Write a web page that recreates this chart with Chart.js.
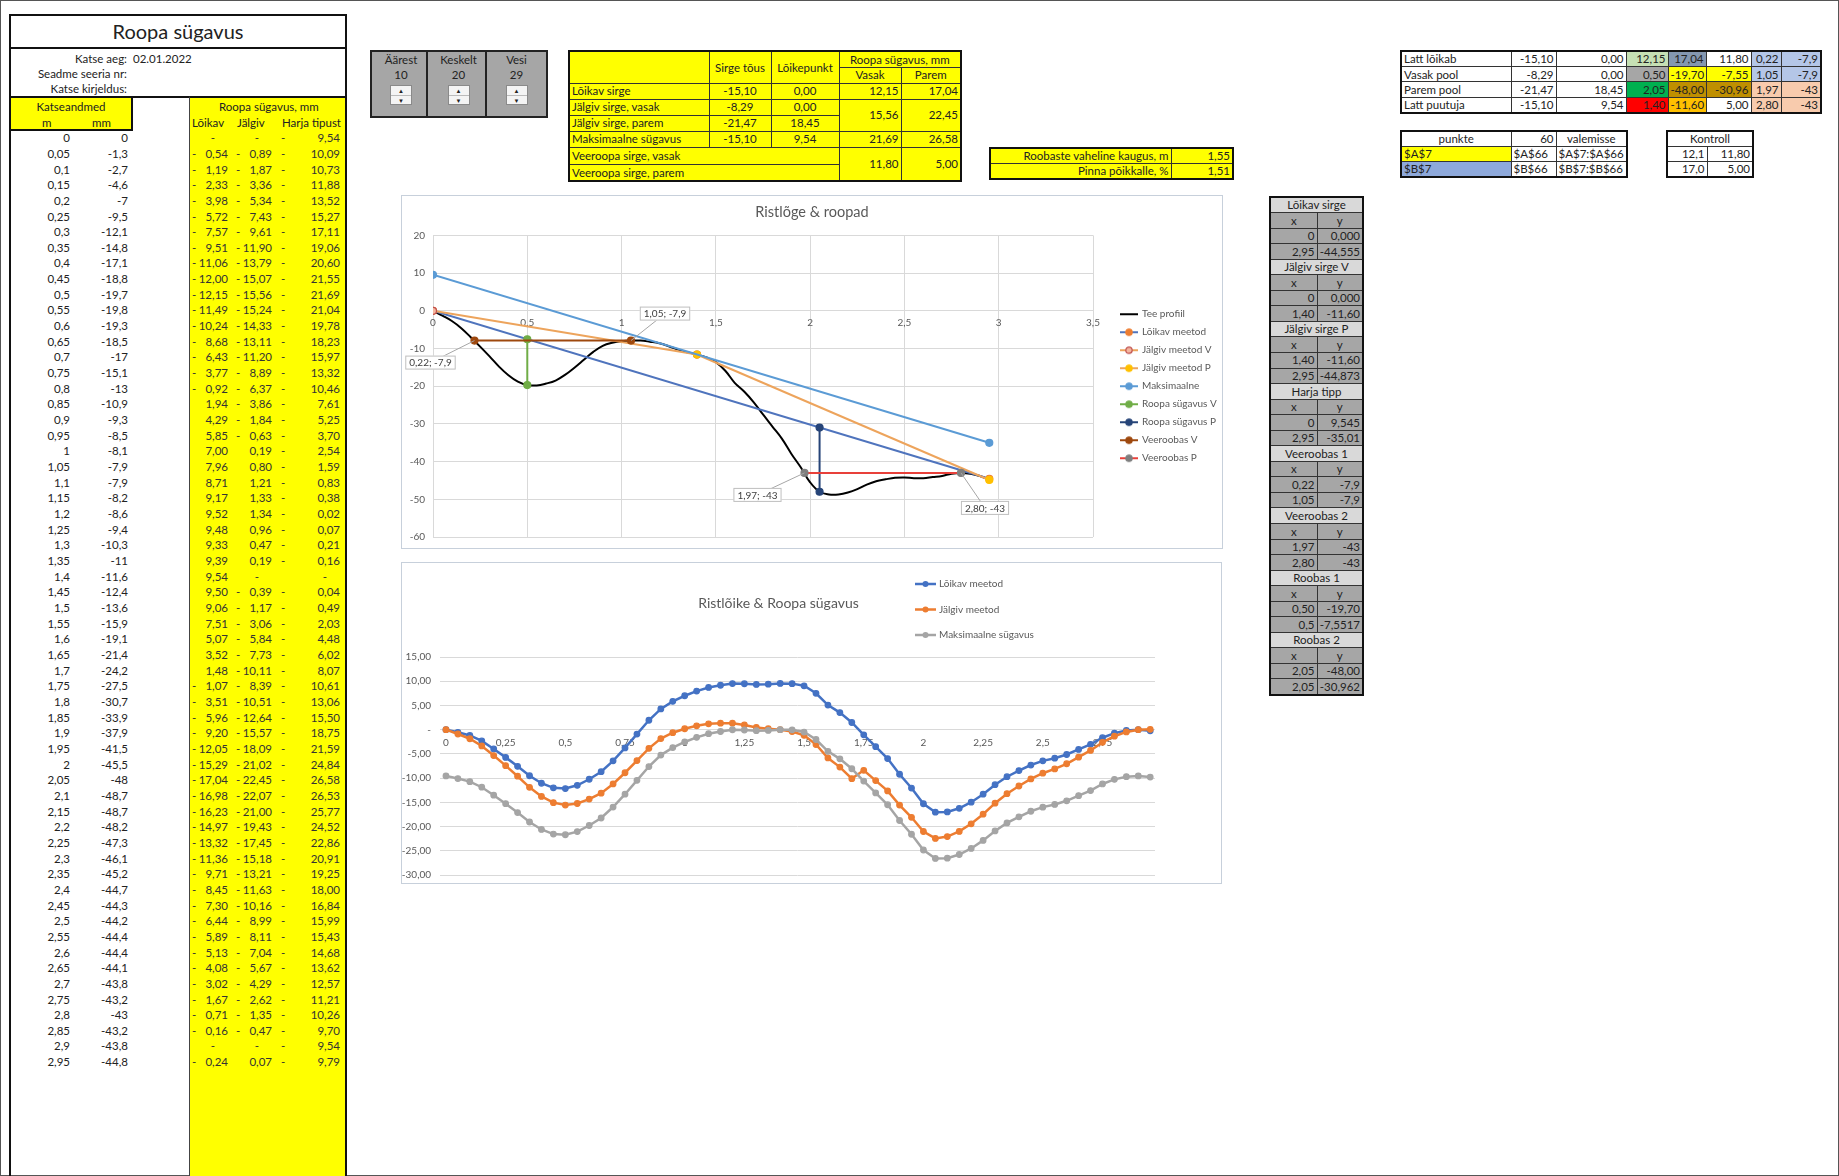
<!DOCTYPE html>
<html lang="et">
<head>
<meta charset="utf-8">
<title>Roopa sügavus</title>
<script src="https://cdn.jsdelivr.net/npm/chart.js@4.4.1/dist/chart.umd.min.js"></script>
<style>
  html, body { margin: 0; padding: 0; }
  body {
    width: 1839px; height: 1176px; position: relative; overflow: hidden; background: #fff;
    font-family: Lato, "Liberation Sans", sans-serif; font-size: 11.5px; color: #222;
  }
  .abs { position: absolute; box-sizing: border-box; }
  #pageframe { left: 0; top: 0; width: 1839px; height: 1176px; border: 1px solid #555; }

  /* left sheet block */
  #titlebox { left: 9px; top: 14px; width: 338px; height: 35px; border: 2px solid #111;
    font-size: 20px; text-align: center; line-height: 31px; }
  #infobox { left: 9px; top: 47px; width: 338px; height: 51px; border: 2px solid #111; }
  #infobox .lbl { position: absolute; left: 0; width: 116px; text-align: right; }
  #infobox .val { position: absolute; left: 122px; }
  #leftline { left: 9px; top: 96px; width: 2px; height: 1100px; background: #111; }
  #katse { left: 9px; top: 96px; width: 124px; height: 35px; background: #ffff00; border: 2px solid #111; }
  #katse span { position: absolute; }
  #ycol { left: 189px; top: 96px; width: 158px; height: 1100px; background: #ffff00;
    border-left: 1px solid #444; border-right: 2px solid #111; border-top: 2px solid #111; }
  .hd { position: absolute; white-space: nowrap; }
  .row { position: absolute; left: 0; width: 347px; height: 15.66px; line-height: 15.66px; }
  .row span { position: absolute; white-space: nowrap; }
  .cm { left: 20px; width: 50px; text-align: right; }
  .cmm { left: 78px; width: 50px; text-align: right; }
  .acc { height: 15.66px; color: #333; }
  .acc i { position: absolute; left: 1px; font-style: normal; }
  .acc b { position: absolute; right: 1px; font-weight: normal; }
  .acc b.z { right: 14px; }

  /* spinners */
  .spc { position: absolute; top: 0; height: 64px; background: #a6a6a6; border: 2px solid #222; text-align: center; }
  .spc .t { position: absolute; left: 0; right: 0; top: 1px; }
  .spc .v { position: absolute; left: 0; right: 0; top: 16px; }
  .spin { position: absolute; top: 33px; left: 50%; margin-left: -11px; width: 22px; height: 20px;
    background: #f4f4f4; border: 1px solid #8a8a8a; box-sizing: border-box; font-size: 6px; line-height: 9px; color: #222; }
  .spin div { height: 9px; }
  .spin div + div { border-top: 1px solid #bbb; }

  /* sheet tables */
  table.grid { position: absolute; border-collapse: collapse; table-layout: fixed; border: 2px solid #111; }
  table.grid td { border: 1px solid #333; padding: 0 2px; white-space: nowrap; overflow: hidden; line-height: 1; }
  table.yel td { background: #ffff00; }
  .r { text-align: right; }
  .c { text-align: center; }
  table.gray td { background: #a6a6a6; }
  table.gray td.gh { background: #d9d9d9; text-align: center; }
  table.gray td.xy { text-align: center; }

  .chartbox { position: absolute; border: 1px solid #c7d0db; background: #fff; }
  .chartbox canvas { display: block; }
</style>
</head>
<body>
<div id="pageframe" class="abs"></div>

<div id="titlebox" class="abs">Roopa sügavus</div>
<div id="infobox" class="abs">
  <span class="lbl" style="top:3px">Katse aeg:</span><span class="val" style="top:3px">02.01.2022</span>
  <span class="lbl" style="top:18px">Seadme seeria nr:</span>
  <span class="lbl" style="top:33px">Katse kirjeldus:</span>
</div>
<div id="leftline" class="abs"></div>
<div id="ycol" class="abs">
  <span class="hd" style="left:29px;top:2px">Roopa sügavus, mm</span>
  <span class="hd" style="left:2px;top:18px">Lõikav</span>
  <span class="hd" style="left:47px;top:18px">Jälgiv</span>
  <span class="hd" style="right:4px;top:18px">Harja tipust</span>
</div>
<div id="katse" class="abs">
  <span style="left:0;width:120px;text-align:center;top:2px">Katseandmed</span>
  <span style="left:31px;top:18px">m</span>
  <span style="left:81px;top:18px">mm</span>
</div>
<div id="rows"></div>

<div class="abs" style="left:370px;top:50px;width:174px;height:64px">
  <div class="spc" style="left:0;width:58px"><div class="t">Äärest</div><div class="v">10</div><div class="spin"><div>▲</div><div>▼</div></div></div>
  <div class="spc" style="left:56px;width:61px"><div class="t">Keskelt</div><div class="v">20</div><div class="spin"><div>▲</div><div>▼</div></div></div>
  <div class="spc" style="left:115px;width:59px"><div class="t">Vesi</div><div class="v">29</div><div class="spin"><div>▲</div><div>▼</div></div></div>
</div>

<table class="grid yel" style="left:568px;top:50px;width:392px;height:130px">
  <colgroup><col style="width:140px"><col style="width:62px"><col style="width:68px"><col style="width:62px"><col style="width:60px"></colgroup>
  <tr style="height:16px"><td rowspan="2"></td><td rowspan="2" class="c">Sirge tõus</td><td rowspan="2" class="c">Lõikepunkt</td><td colspan="2" class="c">Roopa sügavus, mm</td></tr>
  <tr style="height:16px"><td class="c">Vasak</td><td class="c">Parem</td></tr>
  <tr style="height:16px"><td>Lõikav sirge</td><td class="c">-15,10</td><td class="c">0,00</td><td class="r">12,15</td><td class="r">17,04</td></tr>
  <tr style="height:16px"><td>Jälgiv sirge, vasak</td><td class="c">-8,29</td><td class="c">0,00</td><td class="r" rowspan="2">15,56</td><td class="r" rowspan="2">22,45</td></tr>
  <tr style="height:16px"><td>Jälgiv sirge, parem</td><td class="c">-21,47</td><td class="c">18,45</td></tr>
  <tr style="height:16px"><td>Maksimaalne sügavus</td><td class="c">-15,10</td><td class="c">9,54</td><td class="r">21,69</td><td class="r">26,58</td></tr>
  <tr style="height:17px"><td colspan="3">Veeroopa sirge, vasak</td><td class="r" rowspan="2">11,80</td><td class="r" rowspan="2">5,00</td></tr>
  <tr style="height:17px"><td colspan="3">Veeroopa sirge, parem</td></tr>
</table>

<table class="grid yel" style="left:989px;top:147px;width:243px;height:33px">
  <colgroup><col style="width:181px"><col style="width:62px"></colgroup>
  <tr><td class="r">Roobaste vaheline kaugus, m</td><td class="r">1,55</td></tr>
  <tr><td class="r">Pinna põikkalle, %</td><td class="r">1,51</td></tr>
</table>

<table class="grid" style="left:1400px;top:50px;width:420px;height:64px">
  <colgroup><col style="width:110px"><col style="width:45px"><col style="width:70px"><col style="width:42px"><col style="width:38px"><col style="width:45px"><col style="width:30px"><col style="width:40px"></colgroup>
  <tr><td>Latt lõikab</td><td class="r">-15,10</td><td class="r">0,00</td><td class="r" style="background:#c6e0b4">12,15</td><td class="r" style="background:#8497b0">17,04</td><td class="r">11,80</td><td class="r" style="background:#b4c6e7">0,22</td><td class="r" style="background:#b4c6e7">-7,9</td></tr>
  <tr><td>Vasak pool</td><td class="r">-8,29</td><td class="r">0,00</td><td class="r" style="background:#a6a6a6">0,50</td><td class="r" style="background:#ffff00">-19,70</td><td class="r" style="background:#ffff00">-7,55</td><td class="r" style="background:#b4c6e7">1,05</td><td class="r" style="background:#b4c6e7">-7,9</td></tr>
  <tr><td>Parem pool</td><td class="r">-21,47</td><td class="r">18,45</td><td class="r" style="background:#00b050">2,05</td><td class="r" style="background:#bf8f00">-48,00</td><td class="r" style="background:#bf8f00">-30,96</td><td class="r" style="background:#f8cbad">1,97</td><td class="r" style="background:#f8cbad">-43</td></tr>
  <tr><td>Latt puutuja</td><td class="r">-15,10</td><td class="r">9,54</td><td class="r" style="background:#ff0000">1,40</td><td class="r" style="background:#ffc000">-11,60</td><td class="r">5,00</td><td class="r" style="background:#f8cbad">2,80</td><td class="r" style="background:#f8cbad">-43</td></tr>
</table>

<table class="grid" style="left:1400px;top:130px;width:226px;height:48px">
  <colgroup><col style="width:110px"><col style="width:45px"><col style="width:71px"></colgroup>
  <tr><td class="c">punkte</td><td class="r">60</td><td class="c">valemisse</td></tr>
  <tr><td style="background:#ffff00">$A$7</td><td>$A$66</td><td>$A$7:$A$66</td></tr>
  <tr><td style="background:#8ea9db">$B$7</td><td>$B$66</td><td>$B$7:$B$66</td></tr>
</table>

<table class="grid" style="left:1666px;top:130px;width:86px;height:48px">
  <colgroup><col style="width:40px"><col style="width:46px"></colgroup>
  <tr><td class="c" colspan="2">Kontroll</td></tr>
  <tr><td class="r">12,1</td><td class="r">11,80</td></tr>
  <tr><td class="r">17,0</td><td class="r">5,00</td></tr>
</table>

<table id="graytab" class="grid gray" style="left:1269px;top:196px;width:93px;height:498px">
  <colgroup><col style="width:47px"><col style="width:46px"></colgroup>
</table>

<div class="chartbox" style="left:401px;top:195px"><canvas id="c1" width="820" height="352"></canvas></div>
<div class="chartbox" style="left:401px;top:562px"><canvas id="c2" width="819" height="320"></canvas></div>

<script>
// ---- measured profile (Katseandmed) ----
const m = [0, 0.05, 0.1, 0.15, 0.2, 0.25, 0.3, 0.35, 0.4, 0.45,
  0.5, 0.55, 0.6, 0.65, 0.7, 0.75, 0.8, 0.85, 0.9, 0.95,
  1, 1.05, 1.1, 1.15, 1.2, 1.25, 1.3, 1.35, 1.4, 1.45,
  1.5, 1.55, 1.6, 1.65, 1.7, 1.75, 1.8, 1.85, 1.9, 1.95,
  2, 2.05, 2.1, 2.15, 2.2, 2.25, 2.3, 2.35, 2.4, 2.45,
  2.5, 2.55, 2.6, 2.65, 2.7, 2.75, 2.8, 2.85, 2.9, 2.95];
const mm = [0, -1.3, -2.7, -4.6, -7, -9.5, -12.1, -14.8, -17.1, -18.8,
  -19.7, -19.8, -19.3, -18.5, -17, -15.1, -13, -10.9, -9.3, -8.5,
  -8.1, -7.9, -7.9, -8.2, -8.6, -9.4, -10.3, -11, -11.6, -12.4,
  -13.6, -15.9, -19.1, -21.4, -24.2, -27.5, -30.7, -33.9, -37.9, -41.5,
  -45.5, -48, -48.7, -48.7, -48.2, -47.3, -46.1, -45.2, -44.7, -44.3,
  -44.2, -44.4, -44.4, -44.1, -43.8, -43.2, -43, -43.2, -43.8, -44.8];

// ---- rut depth, mm ----
const loikav = [0, -0.54, -1.19, -2.33, -3.98, -5.72, -7.57, -9.51, -11.06, -12.00,
  -12.15, -11.49, -10.24, -8.68, -6.43, -3.77, -0.92, 1.94, 4.29, 5.85,
  7.00, 7.96, 8.71, 9.17, 9.52, 9.48, 9.33, 9.39, 9.54, 9.50,
  9.06, 7.51, 5.07, 3.52, 1.48, -1.07, -3.51, -5.96, -9.20, -12.05,
  -15.29, -17.04, -16.98, -16.23, -14.97, -13.32, -11.36, -9.71, -8.45, -7.30,
  -6.44, -5.89, -5.13, -4.08, -3.02, -1.67, -0.71, -0.16, 0, -0.24];
const jalgiv = [0, -0.89, -1.87, -3.36, -5.34, -7.43, -9.61, -11.90, -13.79, -15.07,
  -15.56, -15.24, -14.33, -13.11, -11.20, -8.89, -6.37, -3.86, -1.84, -0.63,
  0.19, 0.80, 1.21, 1.33, 1.34, 0.96, 0.47, 0.19, 0, -0.39,
  -1.17, -3.06, -5.84, -7.73, -10.11, -8.39, -10.51, -12.64, -15.57, -18.09,
  -21.02, -22.45, -22.07, -21.00, -19.43, -17.45, -15.18, -13.21, -11.63, -10.16,
  -8.99, -8.11, -7.04, -5.67, -4.29, -2.62, -1.35, -0.47, 0, 0.07];
const harja = [-9.54, -10.09, -10.73, -11.88, -13.52, -15.27, -17.11, -19.06, -20.60, -21.55,
  -21.69, -21.04, -19.78, -18.23, -15.97, -13.32, -10.46, -7.61, -5.25, -3.70,
  -2.54, -1.59, -0.83, -0.38, -0.02, -0.07, -0.21, -0.16, 0, -0.04,
  -0.49, -2.03, -4.48, -6.02, -8.07, -10.61, -13.06, -15.50, -18.75, -21.59,
  -24.84, -26.58, -26.53, -25.77, -24.52, -22.86, -20.91, -19.25, -18.00, -16.84,
  -15.99, -15.43, -14.68, -13.62, -12.57, -11.21, -10.26, -9.70, -9.54, -9.79];

// ---- straight lines for the cross-section chart ----
const loikavSirgeX = [0, 2.95], loikavSirgeY = [0, -44.555];
const jalgivVX = [0, 1.40], jalgivVY = [0, -11.60];
const jalgivPX = [1.40, 2.95], jalgivPY = [-11.60, -44.873];
const harjaX = [0, 2.95], harjaY = [9.545, -35.01];
const veeroobas1X = [0.22, 1.05], veeroobas1Y = [-7.9, -7.9];
const veeroobas2X = [1.97, 2.80], veeroobas2Y = [-43, -43];
const roobas1X = [0.50, 0.5], roobas1Y = [-19.70, -7.5517];
const roobas2X = [2.05, 2.05], roobas2Y = [-48.00, -30.962];

// ---- axis ticks ----
const c1XTicks = [0, 0.5, 1, 1.5, 2, 2.5, 3, 3.5];
const c1YTicks = [20, 10, 0, -10, -20, -30, -40, -50, -60];
const c2XTicks = [0, 0.25, 0.5, 0.75, 1, 1.25, 1.5, 1.75, 2, 2.25, 2.5, 2.75];
const c2YTicks = [15, 10, 5, 0, -5, -10, -15, -20, -25, -30];

const comma = s => String(s).replace('.', ',');
const fixed = (v, d) => comma(v.toFixed(d));

// left sheet rows
function acc(v, left, width) {
  let inner;
  if (v === 0) inner = '<b class="z">-</b>';
  else if (v < 0) inner = '<i>-</i><b>' + fixed(-v, 2) + '</b>';
  else inner = '<b>' + fixed(v, 2) + '</b>';
  return '<span class="acc" style="left:' + left + 'px;width:' + width + 'px">' + inner + '</span>';
}
const rowsEl = document.getElementById('rows');
m.forEach(function (x, i) {
  const r = document.createElement('div');
  r.className = 'row';
  r.style.top = (130.2 + i * 15.66) + 'px';
  r.innerHTML = '<span class="cm">' + comma(x) + '</span><span class="cmm">' + comma(mm[i]) + '</span>' +
    acc(loikav[i], 191, 38) + acc(jalgiv[i], 235, 38) + acc(harja[i], 280, 61);
  rowsEl.appendChild(r);
});

// grey helper table with line end points
const grayGroups = [
  ['Lõikav sirge', loikavSirgeX, loikavSirgeY, [0, 2], [3, 3]],
  ['Jälgiv sirge V', jalgivVX, jalgivVY, [0, 2], [3, 2]],
  ['Jälgiv sirge P', jalgivPX, jalgivPY, [2, 2], [2, 3]],
  ['Harja tipp', harjaX, harjaY, [0, 2], [3, 2]],
  ['Veeroobas 1', veeroobas1X, veeroobas1Y, [2, 2], [1, 1]],
  ['Veeroobas 2', veeroobas2X, veeroobas2Y, [2, 2], [0, 0]],
  ['Roobas 1', roobas1X, roobas1Y, [2, 1], [2, 4]],
  ['Roobas 2', roobas2X, roobas2Y, [2, 2], [2, 3]]
];
const gt = document.getElementById('graytab');
let gh = '';
grayGroups.forEach(function (g) {
  gh += '<tr style="height:15.56px"><td class="gh" colspan="2">' + g[0] + '</td></tr>';
  gh += '<tr style="height:15.56px"><td class="xy">x</td><td class="xy">y</td></tr>';
  for (let k = 0; k < 2; k++) {
    gh += '<tr style="height:15.56px"><td class="r">' + fixed(g[1][k], g[3][k]) + '</td><td class="r">' + fixed(g[2][k], g[4][k]) + '</td></tr>';
  }
});
gt.insertAdjacentHTML('beforeend', gh);

// ---- charts ----
Chart.defaults.font.family = 'Lato, "Liberation Sans", sans-serif';
Chart.defaults.color = '#595959';
Chart.defaults.animation = false;

const pts = (xs, ys) => xs.map((x, i) => ({ x: x, y: ys[i] }));

function lineSet(label, data, line, fill, edge, extra) {
  return Object.assign({
    label: label, data: data, showLine: true,
    borderColor: line, backgroundColor: fill, borderWidth: 2,
    pointRadius: 3.5, pointBackgroundColor: fill, pointBorderColor: edge, pointBorderWidth: 1.2
  }, extra || {});
}

const c1Sets = [
  lineSet('Tee profiil', pts(m, mm), '#000000', '#000000', '#000000', { pointRadius: 0, borderWidth: 2, tension: 0.4 }),
  lineSet('Lõikav meetod', pts(loikavSirgeX, loikavSirgeY), '#4f74bd', '#ed7d31', '#ed7d31'),
  lineSet('Jälgiv meetod V', pts(jalgivVX, jalgivVY), '#eda45c', '#f4b6a0', '#c0504d'),
  lineSet('Jälgiv meetod P', pts(jalgivPX, jalgivPY), '#eda45c', '#ffc000', '#ffc000'),
  lineSet('Maksimaalne', pts(harjaX, harjaY), '#5b9bd5', '#5b9bd5', '#5b9bd5'),
  lineSet('Roopa sügavus V', pts(roobas1X, roobas1Y), '#70ad47', '#70ad47', '#70ad47'),
  lineSet('Roopa sügavus P', pts(roobas2X, roobas2Y), '#264478', '#264478', '#264478'),
  lineSet('Veeroobas V', pts(veeroobas1X, veeroobas1Y), '#9e480e', '#9e480e', '#9e480e'),
  lineSet('Veeroobas P', pts(veeroobas2X, veeroobas2Y), '#e8403a', '#7f7f7f', '#7f7f7f')
];
// later series are painted over earlier ones
c1Sets.forEach((d, i) => { d.order = c1Sets.length - i; });

// legend symbol: short line with the series marker in the middle
function legendSymbol(ds) {
  const cv = document.createElement('canvas');
  cv.width = 44; cv.height = 10;
  const g = cv.getContext('2d');
  g.strokeStyle = ds.borderColor; g.lineWidth = 2;
  g.beginPath(); g.moveTo(23, 5); g.lineTo(41, 5); g.stroke();
  if (ds.pointRadius !== 0) {
    g.beginPath(); g.arc(32, 5, 3.2, 0, Math.PI * 2);
    g.fillStyle = ds.pointBackgroundColor; g.fill();
    g.strokeStyle = ds.pointBorderColor; g.lineWidth = 1.2; g.stroke();
  }
  return cv;
}
const c1Symbols = c1Sets.map(legendSymbol);

// boxed "x; y" labels with a leader line
const pointCallouts = {
  id: 'pointCallouts',
  afterDatasetsDraw(chart, args, opts) {
    const ctx = chart.ctx;
    ctx.save();
    ctx.font = '10px Lato, "Liberation Sans", sans-serif';
    ctx.textAlign = 'center';
    ctx.textBaseline = 'middle';
    (opts.items || []).forEach(function (it) {
      const el = chart.getDatasetMeta(it.ds).data[it.idx];
      const raw = chart.data.datasets[it.ds].data[it.idx];
      const txt = fixed(raw.x, 2) + '; ' + comma(raw.y);
      const w = ctx.measureText(txt).width + 8, h = 14;
      const cx = el.x + it.dx, cy = el.y + it.dy;
      ctx.strokeStyle = '#a6a6a6'; ctx.lineWidth = 1;
      ctx.beginPath(); ctx.moveTo(el.x, el.y); ctx.lineTo(cx, cy); ctx.stroke();
      ctx.fillStyle = '#ffffff';
      ctx.fillRect(cx - w / 2, cy - h / 2, w, h);
      ctx.strokeStyle = '#bfbfbf';
      ctx.strokeRect(cx - w / 2 + 0.5, cy - h / 2 + 0.5, w - 1, h - 1);
      ctx.fillStyle = '#404040';
      ctx.fillText(txt, cx, cy + 0.5);
    });
    ctx.restore();
  }
};

// stacked legend floating above the plot
const floatLegend = {
  id: 'floatLegend',
  afterDraw(chart, args, opts) {
    const ctx = chart.ctx;
    ctx.save();
    ctx.font = '10px Lato, "Liberation Sans", sans-serif';
    ctx.textBaseline = 'middle';
    chart.data.datasets.forEach(function (ds, i) {
      const y = opts.y + i * opts.gap;
      ctx.strokeStyle = ds.borderColor; ctx.lineWidth = 2.5;
      ctx.beginPath(); ctx.moveTo(opts.x, y); ctx.lineTo(opts.x + opts.len, y); ctx.stroke();
      ctx.beginPath(); ctx.arc(opts.x + opts.len / 2, y, 3, 0, Math.PI * 2);
      ctx.fillStyle = ds.pointBackgroundColor; ctx.fill();
      ctx.fillStyle = '#595959';
      ctx.fillText(ds.label, opts.x + opts.len + 3, y);
    });
    ctx.restore();
  }
};

const tickList = list => scale => { scale.ticks = list.map(v => ({ value: v })); };
// fixed axis width; no extra space reserved for end labels
const fixWidth = w => scale => { scale.width = w; scale.paddingTop = 0; scale.paddingBottom = 0; };

new Chart(document.getElementById('c1'), {
  type: 'scatter',
  data: { datasets: c1Sets },
  plugins: [pointCallouts],
  options: {
    responsive: false,
    layout: { padding: { left: 0, right: 0, top: 0, bottom: 11 } },
    plugins: {
      title: { display: true, text: 'Ristlõge & roopad', color: '#595959',
        font: { size: 14.5, weight: 'normal' }, padding: { top: 8, bottom: 14 } },
      legend: {
        position: 'right', fullSize: false, maxWidth: 129,
        labels: {
          usePointStyle: true, pointStyleWidth: 36, padding: 8, color: '#595959', font: { size: 10 },
          sort: (a, b) => a.datasetIndex - b.datasetIndex,
          generateLabels: chart => Chart.defaults.plugins.legend.labels.generateLabels(chart)
            .map(l => Object.assign(l, { pointStyle: c1Symbols[l.datasetIndex] }))
        }
      },
      tooltip: { enabled: false },
      pointCallouts: {
        items: [
          { ds: 7, idx: 0, dx: -44, dy: 22 },
          { ds: 7, idx: 1, dx: 34, dy: -27 },
          { ds: 8, idx: 0, dx: -47, dy: 22 },
          { ds: 8, idx: 1, dx: 24, dy: 35 }
        ]
      }
    },
    scales: {
      x: {
        type: 'linear', min: c1XTicks[0], max: c1XTicks[c1XTicks.length - 1], position: { y: 0 },
        afterBuildTicks: tickList(c1XTicks),
        ticks: { callback: v => comma(v), font: { size: 10 }, padding: 6, maxRotation: 0, autoSkip: false },
        grid: { color: '#d9d9d9', drawTicks: false },
        border: { display: false }
      },
      y: {
        min: c1YTicks[c1YTicks.length - 1], max: c1YTicks[0],
        afterBuildTicks: tickList(c1YTicks),
        afterFit: fixWidth(31),
        ticks: { callback: v => comma(v), font: { size: 10 }, padding: 8 },
        grid: { color: '#d9d9d9', drawTicks: false },
        border: { display: false }
      }
    }
  }
});

const c2Sets = [
  lineSet('Lõikav meetod', pts(m, loikav), '#4472c4', '#4472c4', '#4472c4', { borderWidth: 2.5, pointRadius: 2.8 }),
  lineSet('Jälgiv meetod', pts(m, jalgiv), '#ed7d31', '#ed7d31', '#ed7d31', { borderWidth: 2.5, pointRadius: 2.8 }),
  lineSet('Maksimaalne sügavus', pts(m, harja), '#a5a5a5', '#a5a5a5', '#a5a5a5', { borderWidth: 2.5, pointRadius: 2.8 })
];
c2Sets.forEach((d, i) => { d.order = c2Sets.length - i; });

new Chart(document.getElementById('c2'), {
  type: 'scatter',
  data: { datasets: c2Sets },
  plugins: [floatLegend],
  options: {
    responsive: false,
    layout: { padding: { left: 0, right: 66, top: 0, bottom: 8 } },
    plugins: {
      title: { display: true, text: 'Ristlõike & Roopa sügavus', color: '#595959',
        font: { size: 14, weight: 'normal' }, padding: { top: 31.6, bottom: 45.6 } },
      legend: { display: false },
      tooltip: { enabled: false },
      floatLegend: { x: 513, y: 21, gap: 25.5, len: 21 }
    },
    scales: {
      x: {
        type: 'linear', min: -0.025, max: 2.97, position: { y: 0 },
        afterBuildTicks: tickList(c2XTicks),
        ticks: { callback: v => comma(v), font: { size: 10 }, padding: 7, maxRotation: 0, autoSkip: false },
        grid: { display: false, drawTicks: false },
        border: { display: false }
      },
      y: {
        min: c2YTicks[c2YTicks.length - 1], max: c2YTicks[0],
        afterBuildTicks: tickList(c2YTicks),
        afterFit: fixWidth(38),
        ticks: { callback: v => (v === 0 ? '-' : fixed(v, 2)), font: { size: 10 }, padding: 9 },
        grid: { color: '#d9d9d9', drawTicks: false },
        border: { display: false }
      }
    }
  }
});
</script>
</body>
</html>
